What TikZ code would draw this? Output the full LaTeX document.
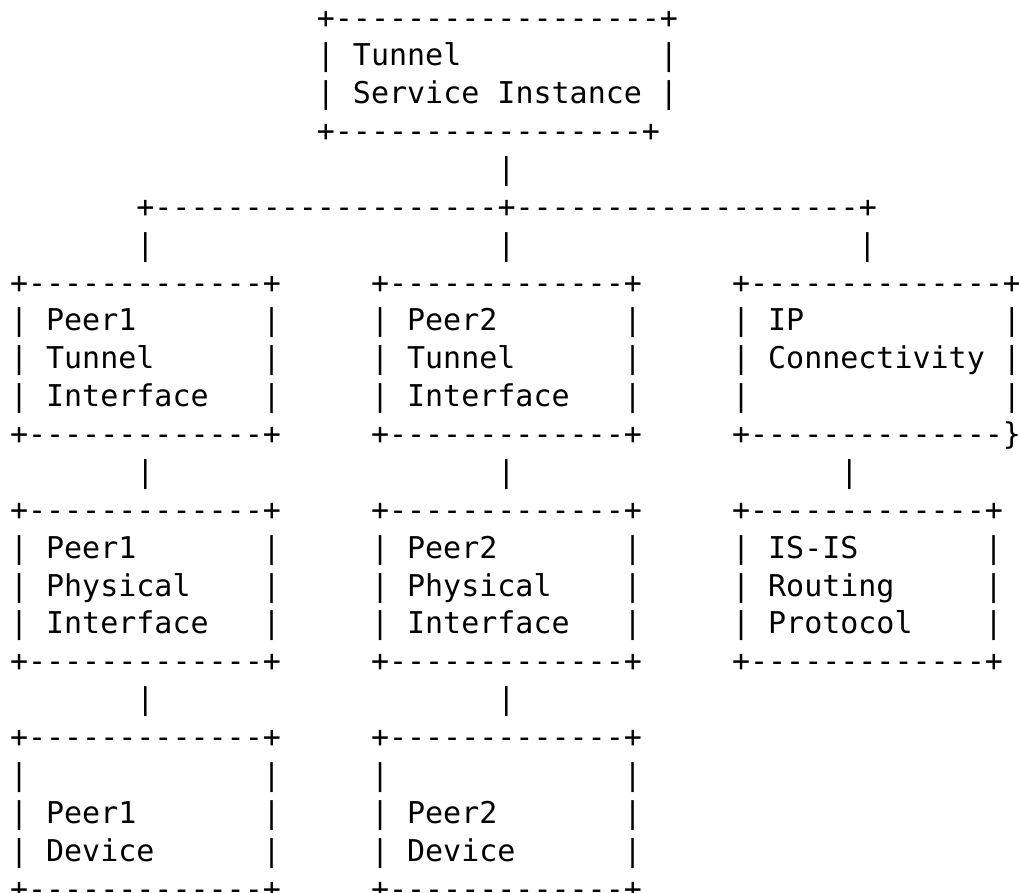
\documentclass[tikz,border=0pt]{standalone}
\usepackage{fontspec}
\setmonofont{DejaVu Sans Mono}
\frenchspacing
% column c, line r -> base west position of a text segment
\newcommand\tx[4]{\node[ascii] (#1) at ({10pt+#2*18.05pt},{-28pt-(#3-1)*37.87pt}) {#4};}
\begin{document}
\begin{tikzpicture}[
  ascii/.style={font=\ttfamily\fontsize{30}{37.87}\selectfont, inner sep=0pt, outer sep=0pt, anchor=base west, text=black}
]
\useasboundingbox[fill=white] (0,0) rectangle (1019pt,-892pt);
% Tunnel Service Instance
\tx{tsiA}{17}{1}{+------------------+}
\tx{tsiB}{17}{2}{| Tunnel}
\tx{tsiC}{36}{2}{|}
\tx{tsiD}{17}{3}{| Service Instance |}
\tx{tsiE}{17}{4}{+-----------------+}
% connectors
\tx{cA}{27}{5}{|}
\tx{cB}{7}{6}{+-------------------+-------------------+}
\tx{cC}{7}{7}{|}
\tx{cD}{27}{7}{|}
\tx{cE}{47}{7}{|}
% row of tunnel interfaces / IP connectivity
\tx{p1tA}{0}{8}{+-------------+}
\tx{p2tA}{20}{8}{+-------------+}
\tx{ipA}{40}{8}{+--------------+}
\tx{p1tB}{0}{9}{| Peer1}
\tx{p1tB2}{14}{9}{|}
\tx{p2tB}{20}{9}{| Peer2}
\tx{p2tB2}{34}{9}{|}
\tx{ipB}{40}{9}{| IP}
\tx{ipB2}{55}{9}{|}
\tx{p1tC}{0}{10}{| Tunnel}
\tx{p1tC2}{14}{10}{|}
\tx{p2tC}{20}{10}{| Tunnel}
\tx{p2tC2}{34}{10}{|}
\tx{ipC}{40}{10}{| Connectivity |}
\tx{p1tD}{0}{11}{| Interface}
\tx{p1tD2}{14}{11}{|}
\tx{p2tD}{20}{11}{| Interface}
\tx{p2tD2}{34}{11}{|}
\tx{ipD}{40}{11}{|}
\tx{ipD2}{55}{11}{|}
\tx{p1tE}{0}{12}{+-------------+}
\tx{p2tE}{20}{12}{+-------------+}
\tx{ipE}{40}{12}{+--------------\}}
% connectors
\tx{cF}{7}{13}{|}
\tx{cG}{27}{13}{|}
\tx{cH}{46}{13}{|}
% physical interfaces / IS-IS
\tx{p1pA}{0}{14}{+-------------+}
\tx{p2pA}{20}{14}{+-------------+}
\tx{isA}{40}{14}{+-------------+}
\tx{p1pB}{0}{15}{| Peer1}
\tx{p1pB2}{14}{15}{|}
\tx{p2pB}{20}{15}{| Peer2}
\tx{p2pB2}{34}{15}{|}
\tx{isB}{40}{15}{| IS-IS}
\tx{isB2}{54}{15}{|}
\tx{p1pC}{0}{16}{| Physical}
\tx{p1pC2}{14}{16}{|}
\tx{p2pC}{20}{16}{| Physical}
\tx{p2pC2}{34}{16}{|}
\tx{isC}{40}{16}{| Routing}
\tx{isC2}{54}{16}{|}
\tx{p1pD}{0}{17}{| Interface}
\tx{p1pD2}{14}{17}{|}
\tx{p2pD}{20}{17}{| Interface}
\tx{p2pD2}{34}{17}{|}
\tx{isD}{40}{17}{| Protocol}
\tx{isD2}{54}{17}{|}
\tx{p1pE}{0}{18}{+-------------+}
\tx{p2pE}{20}{18}{+-------------+}
\tx{isE}{40}{18}{+-------------+}
% connectors
\tx{cI}{7}{19}{|}
\tx{cJ}{27}{19}{|}
% devices
\tx{p1dA}{0}{20}{+-------------+}
\tx{p2dA}{20}{20}{+-------------+}
\tx{p1dB}{0}{21}{|}
\tx{p1dB2}{14}{21}{|}
\tx{p2dB}{20}{21}{|}
\tx{p2dB2}{34}{21}{|}
\tx{p1dC}{0}{22}{| Peer1}
\tx{p1dC2}{14}{22}{|}
\tx{p2dC}{20}{22}{| Peer2}
\tx{p2dC2}{34}{22}{|}
\tx{p1dD}{0}{23}{| Device}
\tx{p1dD2}{14}{23}{|}
\tx{p2dD}{20}{23}{| Device}
\tx{p2dD2}{34}{23}{|}
\tx{p1dE}{0}{24}{+-------------+}
\tx{p2dE}{20}{24}{+-------------+}
\end{tikzpicture}
\end{document}
